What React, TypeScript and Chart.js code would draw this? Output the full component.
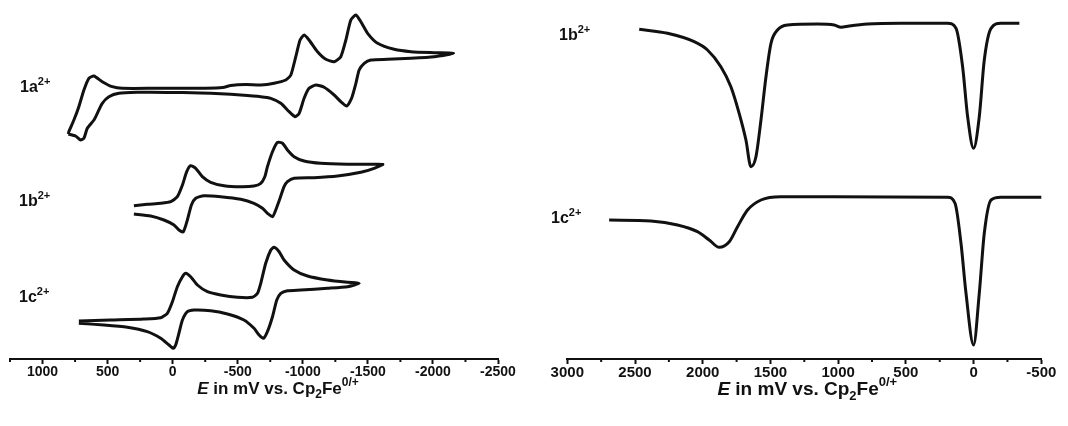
import React, { useEffect, useRef } from 'react';
import { Chart, registerables } from 'chart.js';

Chart.register(...registerables);

// ---------- Left panel: cyclic voltammograms (E in mV vs Cp2Fe0/+, current in a.u. with offsets) ----------
const cv1aE = [802, 798, 759, 721, 682, 644, 605, 541, 464, 387, 131, -254, -385, -446, -562, -677, -779, -869, -908, -946, -979, -1010, -1048, -1113, -1177, -1241, -1292, -1331, -1369, -1408, -1446, -1498, -1575, -1702, -1831, -2010, -2159,
  -2010, -1831, -1652, -1523, -1472, -1433, -1408, -1375, -1338, -1292, -1241, -1164, -1100, -1048, -1010, -972, -941, -895, -831, -754, -677, -523, -369, -215, -77, 169, 259, 413, 490, 541, 579, 605, 656, 682, 708, 746, 802];
const cv1aI = [225, 227.3, 239, 252.3, 269, 280.7, 283, 277.3, 272.3, 270.7, 270.7, 270.8, 271.5, 273.5, 274.5, 274, 275.7, 279, 284, 302.3, 319, 324, 319, 307.3, 299.7, 297.3, 302.3, 319, 339, 344, 337.3, 325.7, 315.7, 309.7, 307.3, 306.3, 305.7,
  302.3, 300.7, 299.7, 299, 295.7, 289, 275.7, 260.7, 253, 257.3, 264, 271.7, 274, 270.7, 260.7, 245.7, 242.3, 247.3, 255.7, 260.7, 262.3, 264, 265.3, 266, 266.5, 266.7, 266.7, 265.7, 262.3, 255.7, 245.7, 239, 230.7, 220.7, 219, 223, 225];

const cv1bE = [298, 195, 92, 15, -36, -75, -108, -138, -177, -228, -292, -395, -523, -625, -677, -708, -728, -767, -805, -844, -882, -933, -1010, -1138, -1344, -1498, -1615,
  -1548, -1446, -1267, -1087, -933, -882, -856, -825, -792, -767, -728, -690, -625, -523, -369, -241, -177, -144, -113, -82, -48, -10, 67, 169, 298];
const cv1bI = [153.3, 154.7, 155.7, 157.3, 162.3, 174, 187.3, 193.3, 190.7, 182.3, 176.7, 173.3, 172.3, 173, 175.7, 182.3, 192.3, 207.3, 216.7, 215.7, 209, 202.3, 198, 195.7, 194.7, 194.7, 194.7,
  190.7, 186.7, 183, 181.3, 180.7, 177.3, 172.3, 160.7, 149, 142.3, 145.7, 150.7, 155.7, 159.7, 162.3, 163.3, 160.7, 154, 139, 127.3, 129, 134, 139, 143, 145];

const cv1cE = [721, 477, 221, 92, 41, 2, -36, -75, -100, -138, -190, -267, -369, -498, -613, -652, -677, -715, -754, -779, -818, -856, -933, -1036, -1190, -1344, -1433,
  -1344, -1190, -985, -882, -831, -800, -767, -728, -698, -664, -625, -548, -421, -292, -164, -113, -75, -48, -23, -5, 28, 92, 195, 348, 528, 721];
const cv1cI = [38, 39, 40, 41.3, 45.7, 57.3, 72.3, 82.3, 85.7, 82.3, 74, 67.3, 64, 61.7, 61.7, 65.7, 75.7, 95.7, 109, 111.7, 107.3, 99, 89, 83, 79, 76.7, 75.7,
  72.3, 70.7, 69, 68.3, 65.7, 59, 42.3, 27.3, 20.7, 24, 30.7, 39, 45, 48.3, 49, 47.3, 39, 25.7, 14, 10.7, 14, 20.7, 27.3, 31.7, 34, 35.7];

// ---------- Right panel: differential pulse traces ----------
const dpv1bE = [2469, 2260, 2063, 1965, 1866, 1792, 1731, 1681, 1644, 1607, 1570, 1533, 1496, 1448, 1374, 1152, 1029, 979, 918, 783, 536, 192, 130, 81, 44, 0, -42, -79, -129, -202, -338];
const dpv1bI = [329.7, 325.7, 317.3, 309, 292.3, 272.3, 245.7, 219, 192.3, 202.3, 239, 282.3, 315.7, 329, 334, 335, 334, 331.7, 333, 335, 335.7, 335.7, 330.7, 292.3, 242.3, 210.7, 242.3, 299, 330.7, 335.7, 335.7];

const dpv1cE = [2691, 2383, 2186, 2039, 1952, 1878, 1804, 1743, 1669, 1570, 1423, 1029, 192, 137, 93, 56, 0, -42, -79, -129, -202, -500];
const dpv1cI = [139, 138, 134, 127.3, 119, 111.7, 117.3, 132.3, 149, 159, 162.3, 162.3, 161.7, 155.7, 115.7, 65.7, 14, 65.7, 125.7, 159, 161.7, 161.7];

// ---------- Axes ----------
const leftMajorTicks = [1000, 500, 0, -500, -1000, -1500, -2000, -2500];
const leftMinorTicks = [1250, 750, 250, -250, -750, -1250, -1750, -2250];
const rightMajorTicks = [3000, 2500, 2000, 1500, 1000, 500, 0, -500];
const rightMinorTicks = [2750, 2250, 1750, 1250, 750, 250, -250];

const FONT = '"Liberation Sans", Arial, Helvetica, sans-serif';
const INK = '#111';
const AXIS_Y = 359;
const CANVAS_H = 426;

type Part = { t: string; size: number; dy?: number; italic?: boolean };

function drawRich(ctx: CanvasRenderingContext2D, parts: Part[], x: number, y: number, align: 'left' | 'center') {
  const widths = parts.map((p) => {
    ctx.font = `${p.italic ? 'italic ' : ''}bold ${p.size}px ${FONT}`;
    return ctx.measureText(p.t).width;
  });
  const total = widths.reduce((a, b) => a + b, 0);
  let cx = align === 'center' ? x - total / 2 : x;
  ctx.textAlign = 'left';
  ctx.textBaseline = 'alphabetic';
  parts.forEach((p, i) => {
    ctx.font = `${p.italic ? 'italic ' : ''}bold ${p.size}px ${FONT}`;
    ctx.fillText(p.t, cx, y + (p.dy || 0));
    cx += widths[i];
  });
}

const titleParts = (s: number): Part[] => {
  const small = Math.round(s * 0.68);
  return [
    { t: 'E', size: s, italic: true },
    { t: ' in mV vs. Cp', size: s },
    { t: '2', size: small, dy: Math.round(s * 0.25) },
    { t: 'Fe', size: s },
    { t: '0/+', size: small, dy: -Math.round(s * 0.45) },
  ];
};

const label = (base: string): Part[] => [
  { t: base, size: 16 },
  { t: '2+', size: 11, dy: -7 },
];

type Lbl = { text: string; x: number; y: number };

function makePlugin(minor: number[], title: { x: number; y: number; size: number }, labels: Lbl[]) {
  return {
    id: 'decor',
    afterDraw(chart: any) {
      const ctx: CanvasRenderingContext2D = chart.ctx;
      const xs = chart.scales.x;
      const yb = chart.chartArea.bottom;
      ctx.save();
      ctx.strokeStyle = INK;
      ctx.fillStyle = INK;
      ctx.lineWidth = 2;
      for (const v of minor) {
        const px = xs.getPixelForValue(v);
        ctx.beginPath();
        ctx.moveTo(px, yb);
        ctx.lineTo(px, yb + 3);
        ctx.stroke();
      }
      drawRich(ctx, titleParts(title.size), title.x, title.y, 'center');
      for (const l of labels) drawRich(ctx, label(l.text), l.x, l.y, 'left');
      ctx.restore();
    },
  };
}

function series(E: number[], I: number[], monotone: boolean) {
  return {
    data: E.map((e, i) => ({ x: e, y: I[i] })),
    borderColor: INK,
    borderWidth: 3,
    pointRadius: 0,
    tension: monotone ? 0.4 : 0.2,
    cubicInterpolationMode: monotone ? 'monotone' : 'default',
    fill: false,
    clip: false as any,
  };
}

function makeConfig(
  datasets: any[],
  min: number,
  max: number,
  major: number[],
  minor: number[],
  pad: { left: number; right: number },
  tickSize: number,
  title: { x: number; y: number; size: number },
  labels: Lbl[]
): any {
  const axisH = 5 + tickSize * 1.2;
  return {
    type: 'line',
    data: { datasets },
    options: {
      animation: false,
      responsive: false,
      events: [],
      layout: { padding: { left: pad.left, right: pad.right, top: 0, bottom: CANVAS_H - AXIS_Y - axisH } },
      plugins: { legend: { display: false }, tooltip: { enabled: false }, title: { display: false } },
      scales: {
        x: {
          type: 'linear',
          min,
          max,
          reverse: true,
          afterBuildTicks: (scale: any) => {
            scale.ticks = major.map((v) => ({ value: v }));
          },
          ticks: {
            autoSkip: false,
            maxRotation: 0,
            padding: 0,
            color: INK,
            font: { family: FONT, size: tickSize, weight: 'bold' },
            callback: (v: number) => String(v),
          },
          grid: {
            display: true,
            drawOnChartArea: false,
            drawTicks: true,
            tickLength: 5,
            tickWidth: 2,
            tickColor: INK,
          },
          border: { display: true, color: INK, width: 2 },
        },
        y: { type: 'linear', display: false, min: 0, max: AXIS_Y },
      },
    },
    plugins: [makePlugin(minor, title, labels)],
  };
}

export default function App() {
  const leftRef = useRef<HTMLCanvasElement>(null);
  const rightRef = useRef<HTMLCanvasElement>(null);

  useEffect(() => {
    const left = new Chart(
      leftRef.current as HTMLCanvasElement,
      makeConfig(
        [series(cv1aE, cv1aI, false), series(cv1bE, cv1bI, false), series(cv1cE, cv1cI, false)],
        -2500,
        1250,
        leftMajorTicks,
        leftMinorTicks,
        { left: 10, right: 36 },
        14,
        { x: 278, y: 394, size: 17 },
        [
          { text: '1a', x: 20, y: 92 },
          { text: '1b', x: 19, y: 206 },
          { text: '1c', x: 19, y: 302 },
        ]
      )
    );
    const right = new Chart(
      rightRef.current as HTMLCanvasElement,
      makeConfig(
        [series(dpv1bE, dpv1bI, true), series(dpv1cE, dpv1cI, true)],
        -500,
        3000,
        rightMajorTicks,
        rightMinorTicks,
        { left: 33.3, right: 26.7 },
        15,
        { x: 273.3, y: 395, size: 19 },
        [
          { text: '1b', x: 25, y: 40 },
          { text: '1c', x: 17, y: 223 },
        ]
      )
    );
    return () => {
      left.destroy();
      right.destroy();
    };
  }, []);

  return (
    <div style={{ position: 'absolute', left: 0, top: 0, width: 1068, height: 426, background: '#fff', overflow: 'hidden' }}>
      <canvas ref={leftRef} width={534} height={426} style={{ position: 'absolute', left: 0, top: 0 }} />
      <canvas ref={rightRef} width={534} height={426} style={{ position: 'absolute', left: 534, top: 0 }} />
    </div>
  );
}
